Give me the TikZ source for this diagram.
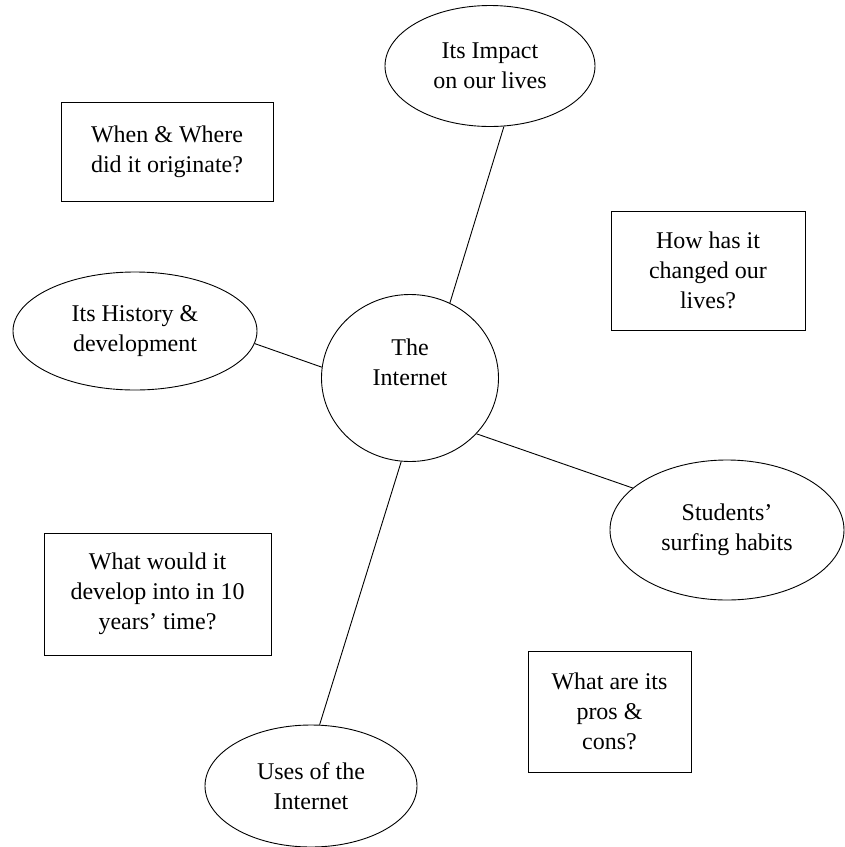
\documentclass[tikz,border=0pt]{standalone}
\usepackage{fontspec}
\setmainfont{Liberation Serif}
\usetikzlibrary{shapes.geometric}
\begin{document}
\begin{tikzpicture}[x=1pt,y=-1pt,
  every node/.style={font=\fontsize{24}{30}\selectfont, align=center, inner sep=0pt},
  topic/.style={draw, ellipse, line width=0.9pt},
  qbox/.style={draw, rectangle, line width=0.9pt},
  link/.style={line width=0.9pt}]
\useasboundingbox (0,0) rectangle (845,847);
% topics
\node[topic, minimum width=210pt, minimum height=121pt] (impact) at (490,66) {Its Impact\\on our lives};
\node[topic, minimum width=244pt, minimum height=118pt] (history) at (135,331) {Its History \&\\development};
\node[topic, minimum width=177pt, minimum height=167pt] (internet) at (410,378) {};
\node (internettext) at (410,362) {The\\Internet};
\node[topic, minimum width=234pt, minimum height=140pt] (students) at (727,530) {Students’\\surfing habits};
\node[topic, minimum width=212pt, minimum height=122pt] (uses) at (311,786) {Uses of the\\Internet};
% question boxes
\node[qbox, minimum width=212pt, minimum height=99pt] (when) at (167,151.5) {When \& Where\\did it originate?};
\node[qbox, minimum width=194pt, minimum height=119pt] (how) at (708,270.5) {How has it\\changed our\\lives?};
\node[qbox, minimum width=227pt, minimum height=122pt] (what) at (157.5,594) {What would it\\develop into in 10\\years’ time?};
\node[qbox, minimum width=163pt, minimum height=121pt] (pros) at (609.5,711.5) {What are its\\pros \&\\cons?};
% connectors
\draw[link] (impact.-77) -- (internet.62);
\draw[link] (history.-6) -- (internet.173);
\draw[link] (internet.-40) -- (students.156);
\draw[link] (internet.-96) -- (uses.82);
\end{tikzpicture}
\end{document}
